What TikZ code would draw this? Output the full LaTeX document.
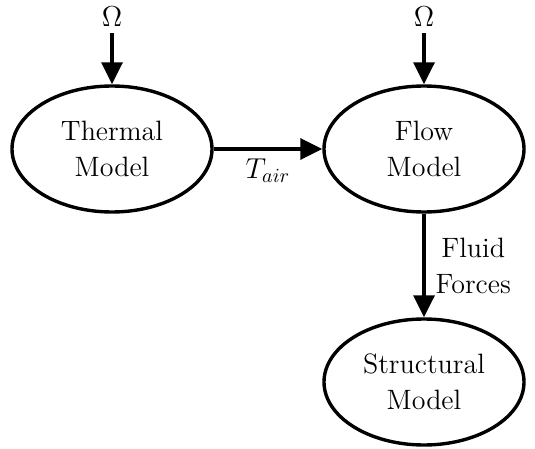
\documentclass[tikz,border=0pt]{standalone}
\usetikzlibrary{shapes.geometric,arrows.meta}
\begin{document}
\begin{tikzpicture}[x=0.5pt,y=-0.5pt,
  model/.style={ellipse,draw,line width=1.7pt,minimum width=100pt,minimum height=63pt,inner sep=0pt,align=center,font=\fontsize{14}{18}\selectfont},
  lbl/.style={font=\fontsize{14}{18}\selectfont,inner sep=3pt},
  flowarrow/.style={line width=1.7pt,-{Triangle[length=11pt,width=10.5pt]}}]
\useasboundingbox (0,0) rectangle (535,449);
\node[model] (thermal) at (112,149) {Thermal\\Model};
\node[model] (flow) at (424,149) {Flow\\Model};
\node[model] (struct) at (424,382) {Structural\\Model};
\node[lbl] (om1) at (112,17) {$\Omega$};
\node[lbl] (om2) at (424,17) {$\Omega$};
\draw[flowarrow] (om1) -- (thermal);
\draw[flowarrow] (om2) -- (flow);
\draw[flowarrow] (thermal) -- node[lbl,below=1pt] (tair) {$T_{air}$} (flow);
\draw[flowarrow] (flow) -- node[lbl,right=2pt,align=center] (ff) {Fluid\\Forces} (struct);
\end{tikzpicture}
\end{document}
